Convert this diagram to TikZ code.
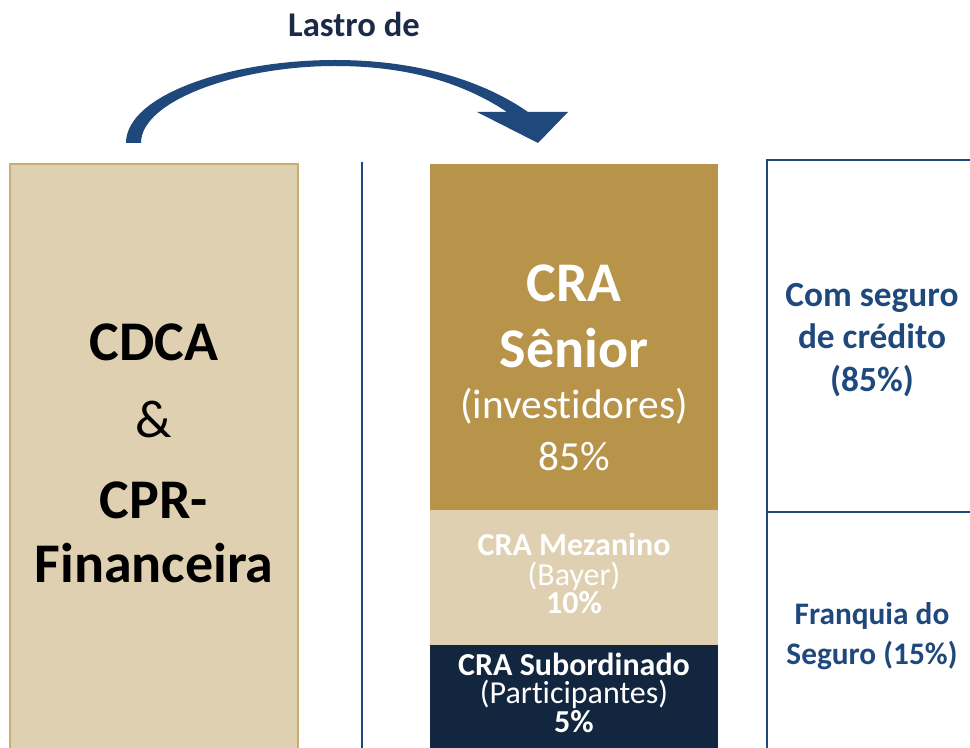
\documentclass[tikz,border=0pt]{standalone}
\usepackage{fontspec}
\setmainfont{Carlito}[Ligatures=NoCommon]
\definecolor{tanlight}{HTML}{DFD0B1}
\definecolor{tanedge}{HTML}{C9AD72}
\definecolor{gold}{HTML}{B8944B}
\definecolor{navy}{HTML}{12263F}
\definecolor{blueline}{HTML}{1F497D}
\definecolor{titlenavy}{HTML}{1B2A47}
\tikzset{
  big/.style={anchor=base,inner sep=0pt,font=\fontsize{42}{42}\selectfont\bfseries},
  bigreg/.style={anchor=base,inner sep=0pt,font=\fontsize{31}{31}\selectfont},
  mid/.style={anchor=base,inner sep=0pt,font=\fontsize{24}{24}\selectfont\bfseries,text=white},
  midreg/.style={anchor=base,inner sep=0pt,font=\fontsize{24}{24}\selectfont,text=white},
  rtxt/.style={anchor=base,inner sep=0pt,font=\fontsize{26.5}{26.5}\selectfont\bfseries,text=blueline},
  rtxts/.style={anchor=base,inner sep=0pt,font=\fontsize{23.5}{23.5}\selectfont\bfseries,text=blueline},
  bline/.style={draw=blueline,line width=2.2pt},
}
\begin{document}
\begin{tikzpicture}[x=0.75pt,y=-0.75pt]
\useasboundingbox (0,0) rectangle (970,748);
% left box
\fill[tanlight,draw=tanedge,line width=0.8pt] (10,164) rectangle (298,760);
\node[big] (cdca) at (154,360) {CDCA};
\node[bigreg,font=\fontsize{40}{40}\selectfont] (amp) at (154,437) {\&};
\node[big] (cpr) at (154,518) {CPR-};
\node[big] (fin) at (154,582) {Financeira};
% separator line
\coordinate (sepT) at (362,162);
\coordinate (sepB) at (362,760);
\draw[bline] (sepT) -- (sepB);
% tranches
\fill[gold] (430,164) rectangle (718,510);
\fill[tanlight] (430,510) rectangle (718,645);
\fill[navy] (430,645) rectangle (718,760);
\node[big,text=white] (cra) at (574,301) {CRA};
\node[big,text=white] (sen) at (574,367) {Sênior};
\node[bigreg,text=white] (inv) at (574,418) {(investidores)};
\node[bigreg,text=white] (p85) at (574,470) {85\%};
\node[mid] (mez) at (574,555) {CRA Mezanino};
\node[midreg] (bay) at (574,585) {(Bayer)};
\node[mid] (p10) at (574,613) {10\%};
\node[mid] (sub) at (574,675) {CRA Subordinado};
\node[midreg] (par) at (574,703) {(Participantes)};
\node[mid] (p5) at (574,732) {5\%};
% right bracket
\coordinate (rT) at (767,160);
\coordinate (rB) at (767,760);
\coordinate (rTR) at (975,160);
\coordinate (rM) at (767,512);
\coordinate (rMR) at (975,512);
\draw[bline] (rB) -- (rT) -- (rTR);
\draw[bline] (rM) -- (rMR);
\node[rtxt] (c1) at (872,307) {Com seguro};
\node[rtxt] (c2) at (872,349) {de crédito};
\node[rtxt] (c3) at (872,391) {(85\%)};
\node[rtxts] (f1) at (872,624) {Franquia do};
\node[rtxts] (f2) at (872,664) {Seguro (15\%)};
% title and arrow
\node[anchor=base,inner sep=0pt,font=\fontsize{26}{26}\selectfont\bfseries,text=titlenavy] (lastro) at (354,37) {Lastro de};
\fill[blueline] (126,143) .. controls (126,95) and (230,60) .. (335,60)
  .. controls (420,60) and (485,82) .. (528,112)
  -- (568,112) -- (538,143) -- (477,112) -- (507,112)
  .. controls (465,84) and (410,66) .. (335,66)
  .. controls (240,66) and (141,100) .. (141,143) -- cycle;
\end{tikzpicture}
\end{document}
